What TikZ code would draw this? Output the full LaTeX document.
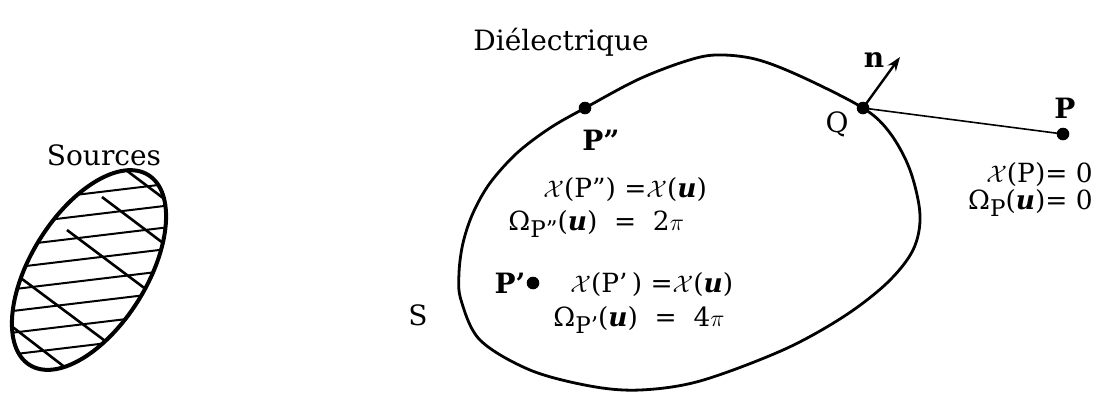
\documentclass[tikz,border=0pt]{standalone}
\usepackage{amsmath}
\usepackage{fontspec}
\setmainfont{DejaVu Serif}
\usetikzlibrary{arrows.meta}
\newcommand{\Xc}{$\mathcal{X}$}
\newcommand{\uu}{\textbf{\textit{u}}}
\newcommand{\subP}[1]{\raisebox{-0.55ex}{\fontsize{11.5}{12}\selectfont #1}}
\begin{document}
\begin{tikzpicture}[x=0.5pt,y=-0.5pt,
  lbl/.style={inner sep=0pt,font=\fontsize{14}{16}\selectfont},
  blbl/.style={inner sep=0pt,font=\fontsize{14}{16}\selectfont\bfseries},
  frm/.style={inner sep=0pt,font=\fontsize{13.2}{16}\selectfont},
  pdot/.style={circle,fill=black,inner sep=0pt,minimum size=6.3pt},
  hatch/.style={line width=1pt},
  dhatch/.style={line width=1.3pt},
  surf/.style={line width=1.4pt}]
\useasboundingbox (0,0) rectangle (1103,393);

% Sources
\node[lbl] (src) at (104,155) {Sources};
\begin{scope}
  \clip[rotate around={58:(89,270)}] (89,270) ellipse [x radius=112, y radius=58];
  \foreach \k in {0,...,7}{
    \draw[hatch] (0,{204+21.7*\k}) -- (200,{204+21.7*\k-24});
  }
  \draw[dhatch] (118,164) -- (175,207);
  \draw[dhatch] (102,197) -- (175,252);
  \draw[dhatch] (67,230) -- (155,296);
  \draw[dhatch] (10,270) -- (120,352);
  \draw[dhatch] (10,325) -- (75,375);
\end{scope}
\draw[line width=2pt,rotate around={58:(89,270)}] (89,270) ellipse [x radius=112, y radius=58];

% Dielectric surface
\node[lbl] (diel) at (561,42) {Diélectrique};
\draw[surf] plot[smooth cycle, tension=0.55] coordinates {
  (863,108) (800,76) (755,59) (715,55) (683,62) (637,80) (585,108) (550,128) (517,153)
  (490,183) (473,213) (463,243) (459,273) (461,300) (480,340) (530,370) (590,386) (640,390)
  (700,381) (783,350) (843,317) (887,283) (913,250) (920,215) (910,170) (890,133)};
\node[lbl] (S) at (418,315) {S};

% Points
\node[pdot] (Q) at (863,108) {};
\node[pdot] (Pss) at (585,108) {};
\node[pdot] (Ps) at (533,283) {};
\node[pdot] (P) at (1063,134) {};
\coordinate (ntip) at (900,57);

\draw[line width=0.8pt] (Q.center) -- (P.center);
\draw[line width=1.2pt,-{Stealth[length=7pt,width=5pt]}] (Q.center) -- (ntip);

\node[blbl] (nlab) at (874,60) {n};
\node[lbl] (Qlab) at (837,124) {Q};
\node[blbl] (Plab) at (1065,108) {P};
\node[blbl] (Psslab) at (601,140) {P''};
\node[blbl] (Pslab) at (510,283) {P'};

% Formulas
\node[frm,anchor=base west] (f1) at (543,197) {\Xc(P'') =\Xc(\uu)};
\node[frm,anchor=base west] (f2) at (508,230) {Ω\subP{P''}(\uu) \ = \ 2$\pi$};
\node[frm,anchor=base west] (f3) at (570,292) {\Xc(P'\,) =\Xc(\uu)};
\node[frm,anchor=base west] (f4) at (553,326) {Ω\subP{P'}(\uu) \ = \ 4$\pi$};
\node[frm,anchor=base east] (f5) at (1093,182) {\Xc(P)= 0};
\node[frm,anchor=base east] (f6) at (1093,209) {Ω\subP{P}(\uu)= 0};
\end{tikzpicture}
\end{document}
